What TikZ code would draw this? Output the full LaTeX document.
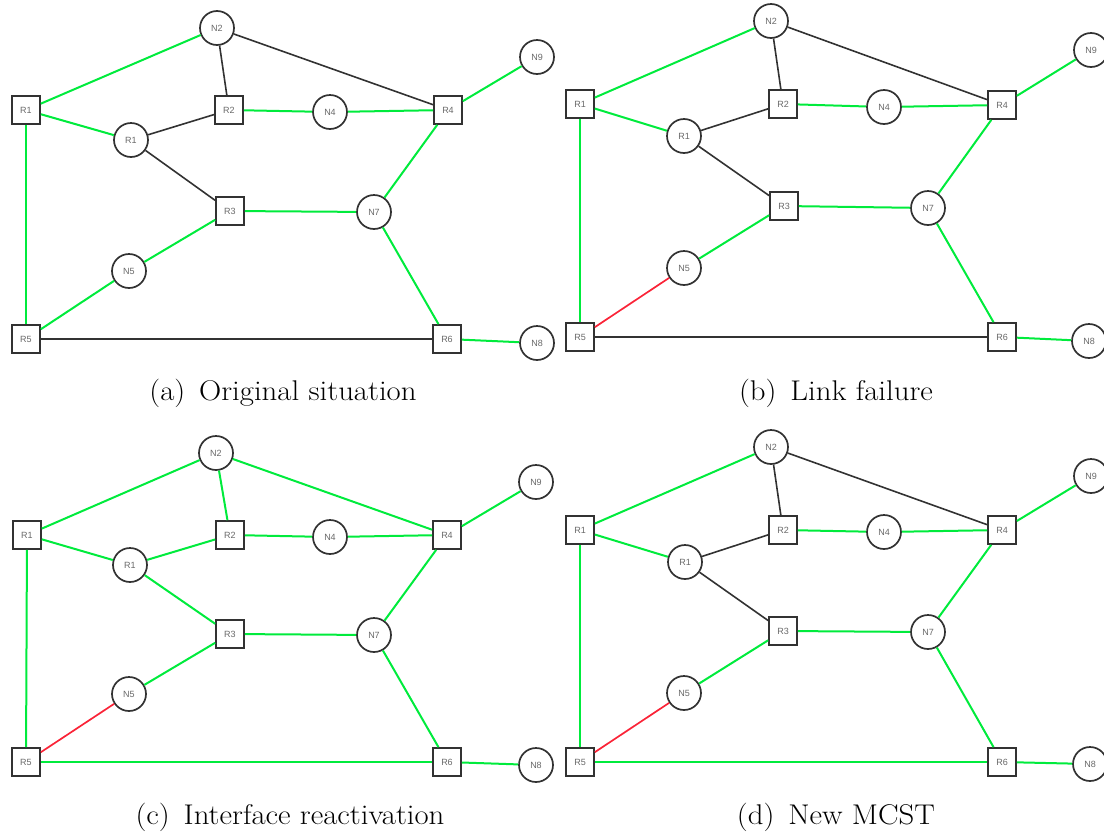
\documentclass[tikz,border=0pt]{standalone}
\usepackage{fontspec}
\newfontfamily\labelfont{Liberation Sans}
\definecolor{linkgreen}{RGB}{0,235,60}
\definecolor{linkred}{RGB}{250,35,55}
\definecolor{linkdark}{RGB}{50,50,50}
\definecolor{labelgray}{RGB}{105,105,105}
\newcommand{\subcaptext}[1]{\scalebox{1.08}[1]{#1}}
\begin{document}
\begin{tikzpicture}[x=1pt,y=-1pt,
  nodetext/.style={font=\labelfont\fontsize{9}{10}\selectfont, text=labelgray},
  router/.style={nodetext, rectangle, draw=linkdark, line width=1.7pt, fill=white,
                 minimum size=28pt, inner sep=0pt},
  net/.style={nodetext, circle, draw=linkdark, line width=1.7pt, fill=white,
              minimum size=34pt, inner sep=0pt},
  up/.style={draw=linkgreen, line width=2pt},
  idle/.style={draw=linkdark, line width=1.6pt},
  down/.style={draw=linkred, line width=1.7pt},
  subcap/.style={font=\fontsize{28.5}{34}\selectfont, anchor=base, inner sep=0pt}]
\useasboundingbox (0,0) rectangle (1104,836);

% ---------- (a) original situation ----------
\node[router] (aR1) at (26,110) {R1};
\node[net]    (aN2) at (217,28) {N2};
\node[router] (aR2) at (229,110) {R2};
\node[net]    (aN4) at (330,112) {N4};
\node[router] (aR4) at (448,110) {R4};
\node[net]    (aN9) at (537,57) {N9};
\node[net]    (aC1) at (131,140) {R1};
\node[router] (aR3) at (230,211) {R3};
\node[net]    (aN7) at (374,212) {N7};
\node[net]    (aN5) at (129,271) {N5};
\node[router] (aR5) at (26,339) {R5};
\node[router] (aR6) at (447,339) {R6};
\node[net]    (aN8) at (537,343) {N8};
\foreach \u/\v/\s in {R1/N2/up, R1/C1/up, R1/R5/up, N2/R2/idle, N2/R4/idle,
    C1/R2/idle, C1/R3/idle, R2/N4/up, N4/R4/up, R4/N9/up, R4/N7/up,
    R3/N7/up, R3/N5/up, N5/R5/up, R5/R6/idle, N7/R6/up, R6/N8/up}
  \draw[style=\s] (a\u) -- (a\v);
\node[subcap] (acap) at (283,400) {\subcaptext{(a)\hspace{0.45em}Original situation}};

% ---------- (b) link failure ----------
\node[router] (bR1) at (580,104) {R1};
\node[net]    (bN2) at (771,21) {N2};
\node[router] (bR2) at (783,104) {R2};
\node[net]    (bN4) at (884,107) {N4};
\node[router] (bR4) at (1002,105) {R4};
\node[net]    (bN9) at (1091,50) {N9};
\node[net]    (bC1) at (684,136) {R1};
\node[router] (bR3) at (784,206) {R3};
\node[net]    (bN7) at (928,208) {N7};
\node[net]    (bN5) at (684,268) {N5};
\node[router] (bR5) at (580,337) {R5};
\node[router] (bR6) at (1002,337) {R6};
\node[net]    (bN8) at (1089,341) {N8};
\foreach \u/\v/\s in {R1/N2/up, R1/C1/up, R1/R5/up, N2/R2/idle, N2/R4/idle,
    C1/R2/idle, C1/R3/idle, R2/N4/up, N4/R4/up, R4/N9/up, R4/N7/up,
    R3/N7/up, R3/N5/up, N5/R5/down, R5/R6/idle, N7/R6/up, R6/N8/up}
  \draw[style=\s] (b\u) -- (b\v);
\node[subcap] (bcap) at (836,400) {\subcaptext{(b)\hspace{0.45em}Link failure}};

% ---------- (c) interface reactivation ----------
\node[router] (cR1) at (27,535) {R1};
\node[net]    (cN2) at (216,453) {N2};
\node[router] (cR2) at (230,535) {R2};
\node[net]    (cN4) at (330,537) {N4};
\node[router] (cR4) at (447,535) {R4};
\node[net]    (cN9) at (536,482) {N9};
\node[net]    (cC1) at (130,565) {R1};
\node[router] (cR3) at (230,634) {R3};
\node[net]    (cN7) at (374,635) {N7};
\node[net]    (cN5) at (129,694) {N5};
\node[router] (cR5) at (26,762) {R5};
\node[router] (cR6) at (447,762) {R6};
\node[net]    (cN8) at (536,765) {N8};
\foreach \u/\v/\s in {R1/N2/up, R1/C1/up, R1/R5/up, N2/R2/up, N2/R4/up,
    C1/R2/up, C1/R3/up, R2/N4/up, N4/R4/up, R4/N9/up, R4/N7/up,
    R3/N7/up, R3/N5/up, N5/R5/down, R5/R6/up, N7/R6/up, R6/N8/up}
  \draw[style=\s] (c\u) -- (c\v);
\node[subcap] (ccap) at (290,824) {\subcaptext{(c)\hspace{0.45em}Interface reactivation}};

% ---------- (d) new MCST ----------
\node[router] (dR1) at (580,530) {R1};
\node[net]    (dN2) at (771,447) {N2};
\node[router] (dR2) at (783,530) {R2};
\node[net]    (dN4) at (884,532) {N4};
\node[router] (dR4) at (1002,530) {R4};
\node[net]    (dN9) at (1091,476) {N9};
\node[net]    (dC1) at (685,562) {R1};
\node[router] (dR3) at (783,631) {R3};
\node[net]    (dN7) at (928,632) {N7};
\node[net]    (dN5) at (684,693) {N5};
\node[router] (dR5) at (580,762) {R5};
\node[router] (dR6) at (1002,762) {R6};
\node[net]    (dN8) at (1090,764) {N8};
\foreach \u/\v/\s in {R1/N2/up, R1/C1/up, R1/R5/up, N2/R2/idle, N2/R4/idle,
    C1/R2/idle, C1/R3/idle, R2/N4/up, N4/R4/up, R4/N9/up, R4/N7/up,
    R3/N7/up, R3/N5/up, N5/R5/down, R5/R6/up, N7/R6/up, R6/N8/up}
  \draw[style=\s] (d\u) -- (d\v);
\node[subcap] (dcap) at (836,824) {\subcaptext{(d)\hspace{0.45em}New MCST}};
\end{tikzpicture}
\end{document}
